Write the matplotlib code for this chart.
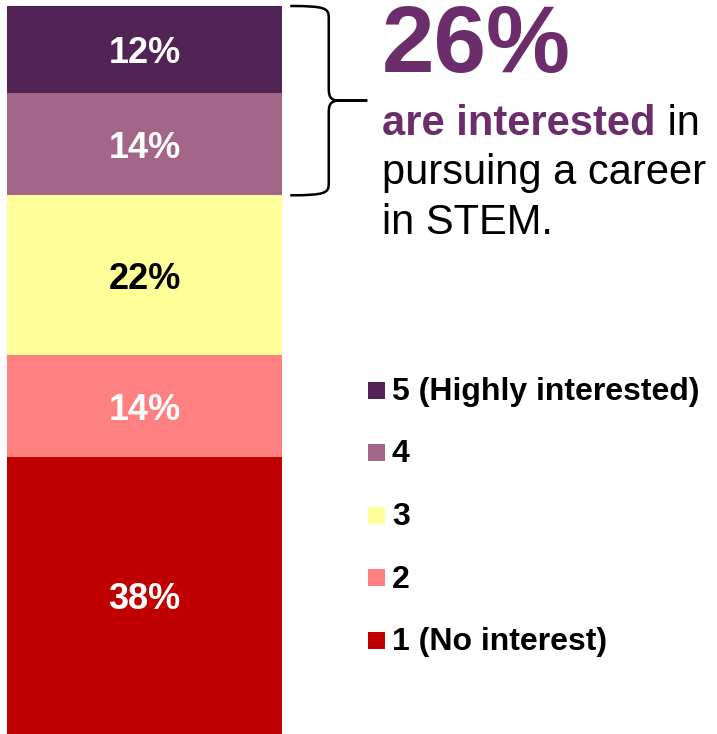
import matplotlib
matplotlib.use("Agg")
import matplotlib.pyplot as plt
from matplotlib.patches import Rectangle, PathPatch
from matplotlib.path import Path
import numpy as np

plt.rcParams['font.family'] = ['Liberation Sans', 'DejaVu Sans']

# Interest in a STEM career, stacked from the bottom (1) to the top (5)
levels = ["1 (No interest)", "2", "3", "4", "5 (Highly interested)"]
shares = [38, 14, 22, 14, 12]
colors = ["#C00000", "#FF8080", "#FFFF99", "#A36688", "#522456"]
label_colors = ["white", "white", "black", "white", "white"]
interested_levels = [3, 4]  # indexes of levels 4 and 5

W, H = 717, 734
fig = plt.figure(figsize=(W / 100, H / 100), dpi=100)
fig.patch.set_facecolor("white")

# Single stacked column
ax = fig.add_axes([7 / W, 0, 275 / W, 728 / H])
ax.set_xlim(0, 1)
ax.set_ylim(0, sum(shares))
ax.axis("off")

bottoms = np.concatenate([[0], np.cumsum(shares)[:-1]])
ax.bar([0.5] * len(shares), shares, width=1.0, bottom=bottoms,
       color=colors, edgecolor="none")
for b, s, tc in zip(bottoms, shares, label_colors):
    ax.text(0.5, b + s / 2, f"{s}%", ha="center", va="center_baseline",
            fontsize=26, fontweight="bold", color=tc)

# Curly brace spanning the "interested" segments
y_lo = bottoms[interested_levels[0]]
y_hi = bottoms[interested_levels[-1]] + shares[interested_levels[-1]]
y_mid = (y_lo + y_hi) / 2
x0, xv, xp = 1.03, 1.17, 1.31
rx, ry = 0.04, 1.6
verts = [
    (x0, y_hi),
    (xv - rx * 0.3, y_hi), (xv, y_hi - ry * 0.2), (xv, y_hi - ry),
    (xv, y_mid + ry),
    (xv, y_mid + ry * 0.2), (xv + rx * 0.3, y_mid), (xv + rx, y_mid),
    (xp, y_mid),
    (xv + rx, y_mid),
    (xv + rx * 0.3, y_mid), (xv, y_mid - ry * 0.2), (xv, y_mid - ry),
    (xv, y_lo + ry),
    (xv, y_lo + ry * 0.2), (xv - rx * 0.3, y_lo), (x0, y_lo),
]
codes = ([Path.MOVETO] + [Path.CURVE4] * 3 + [Path.LINETO] + [Path.CURVE4] * 3
         + [Path.LINETO, Path.LINETO] + [Path.CURVE4] * 3 + [Path.LINETO]
         + [Path.CURVE4] * 3)
brace = PathPatch(Path(verts, codes), facecolor="none", edgecolor="black",
                  lw=1.8, clip_on=False, capstyle="butt")
ax.add_patch(brace)

# Callout text
purple = "#6B2D6B"
interested_total = sum(shares[i] for i in interested_levels)
tx = 382 / W
fig.text(tx, 1 - 72 / H, f"{interested_total}%", fontsize=68,
         fontweight="bold", color=purple, ha="left", va="baseline")
t1 = fig.text(tx, 1 - 135 / H, "are interested", fontsize=30,
              fontweight="bold", color=purple, ha="left", va="baseline")
ax.annotate(" in", xy=(1, 1 - 135 / H), xycoords=(t1, "figure fraction"),
            fontsize=30, color="black", ha="left", va="baseline")
fig.text(tx, 1 - 184 / H, "pursuing a career", fontsize=30,
         color="black", ha="left", va="baseline")
fig.text(tx, 1 - 234 / H, "in STEM.", fontsize=30,
         color="black", ha="left", va="baseline")

# Legend, highest level first
row_y = [390, 452.5, 515, 577.5, 640]
for yc, i in zip(row_y, range(len(levels) - 1, -1, -1)):
    fig.patches.append(Rectangle((368 / W, 1 - (yc + 8.5) / H), 17 / W, 17 / H,
                                 transform=fig.transFigure,
                                 facecolor=colors[i], edgecolor="none"))
    fig.text(392 / W, 1 - (yc + 10) / H, levels[i], fontsize=23,
             fontweight="bold", color="black", ha="left", va="baseline")

fig.savefig("out.png", dpi=100, facecolor="white")
